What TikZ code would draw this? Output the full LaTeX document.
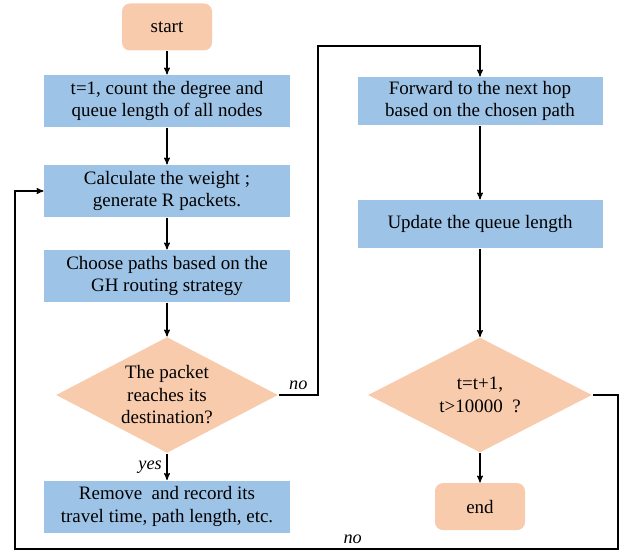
\documentclass[tikz,border=0pt]{standalone}
\usepackage{xcolor}
\usepackage{fontspec}
\setmainfont{Liberation Serif}
\usepackage{tikz}
\usetikzlibrary{positioning, shapes.geometric, arrows}

\definecolor{boxblue}{HTML}{9DC3E6}
\definecolor{termorange}{HTML}{F8CBAD}

\tikzset{
  procbox/.style={rectangle, fill=boxblue, minimum width=6.15cm, minimum height=1.3cm,
                  align=center, inner sep=2pt},
  termbox/.style={rectangle, rounded corners=0.2cm, fill=termorange,
                  minimum width=2.25cm, minimum height=1.175cm},
  decide/.style={diamond, fill=termorange, aspect=1.9, align=center, inner sep=1pt,
                 minimum width=5.55cm, minimum height=2.9cm},
  lbl/.style={font=\fontsize{13}{15}\selectfont\itshape, black}
}

\begin{document}
\begin{tikzpicture}[->,>=stealth', line width=0.8pt, node distance=2cm,
                    font=\fontsize{13.5}{16}\selectfont]
\useasboundingbox (-4.175,0.675) rectangle (11.425,-13.1);
% left column
\node[termbox]                                         (start){start};
\node[procbox, below of = start, node distance=1.85cm]  (init){t=1, count the degree and\\queue length of all nodes};
\node[procbox, below of = init,  node distance=2.25cm]  (calc){Calculate the weight ;\\generate R packets.};
\node[procbox, below of = calc,  node distance=2.125cm] (choose){Choose paths based on the\\GH routing strategy};
\node[decide,  below of = choose, node distance=2.975cm](reach){The packet\\reaches its\\destination?};
\node[procbox, below of = reach, node distance=2.79cm]  (remove){Remove~ and record its\\travel time, path length, etc.};
% right column
\node[procbox, right of = init,  node distance=7.825cm, minimum width=6.125cm, minimum height=1.2cm](fwd){Forward to the next hop\\based on the chosen path};
\node[procbox, below of = fwd,   node distance=3.075cm, minimum width=6.125cm, minimum height=1.2cm](upd){Update the queue length};
\node[decide,  right of = reach, node distance=7.825cm, minimum width=5.6cm, minimum height=2.875cm](check){t=t+1,\\t>10000~ ?};
\node[termbox, right of = remove, node distance=7.825cm](end){end};
% corners of the loops
\coordinate (toptr)  at (3.775,-0.475);
\coordinate (botr)   at (11.275,-13.05);
\coordinate (botl)   at (-3.8,-13.05);

\draw (start) -- (init);
\draw (init) -- (calc);
\draw (calc) -- (choose);
\draw (choose) -- (reach);
\draw (reach) -- node[lbl, left]{yes} (remove);
\draw (reach.east) -| node[lbl, pos=0.25, above]{no} (toptr) -| (fwd.north);
\draw (fwd) -- (upd);
\draw (upd) -- (check);
\draw (check) -- (end);
\draw (check.east) -| (botr) -- node[lbl, pos=0.44, above]{no} (botl) |- (calc.west);
\end{tikzpicture}
\end{document}
